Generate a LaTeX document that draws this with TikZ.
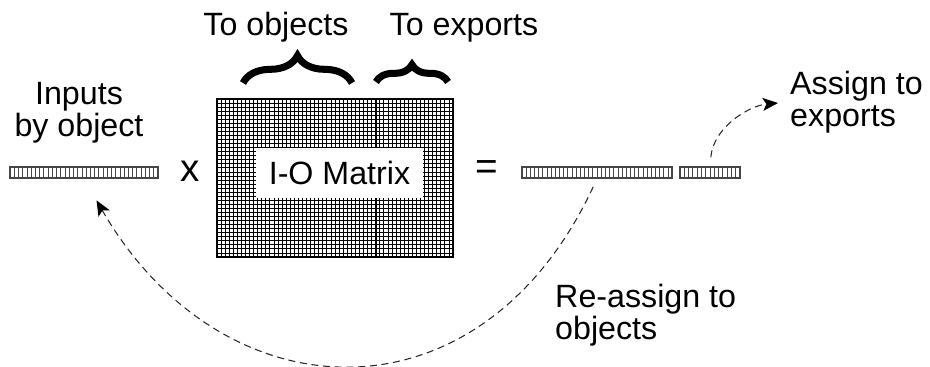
\documentclass[tikz,border=0pt]{standalone}
\usepackage{fontspec}
\setmainfont{Liberation Sans}
\usetikzlibrary{arrows.meta, positioning, calc, decorations.pathreplacing}
\definecolor{vecgray}{RGB}{70,70,70}
\definecolor{dashgray}{RGB}{40,40,40}
\tikzset{
  lbl/.style={font=\fontsize{27.5}{27.2}\selectfont, inner sep=0pt},
  oplbl/.style={font=\fontsize{33}{33}\selectfont, inner sep=0pt},
  vecbox/.style={draw=vecgray, line width=1.2pt, minimum height=0.33cm, inner sep=0pt},
  stripe/.style={vecgray, line width=0.7pt},
  gridline/.style={black, line width=0.75pt},
  flowarrow/.style={dashgray, line width=0.9pt, dash pattern=on 6pt off 4pt,
    -{Stealth[length=13pt, width=11pt, inset=3pt, black]}},
  bigbrace/.style={decorate, decoration={brace, amplitude=#1}, line width=6pt},
}
\begin{document}
\begin{tikzpicture}[x=0.3mm, y=0.3mm]
    \useasboundingbox (0,0) rectangle (930,367);

    % Inputs vector
    \node[lbl, align=center] (inputs) at (79,254) {Inputs\\by object};
    \node[vecbox, minimum width=4.44cm] (invec) at (84,194.5) {};
    \foreach \i in {1,...,34} {
        \draw[stripe] (10+\i*4.23,189) -- ++(0,11);
    }

    \node[oplbl] (times) at (190,196) {x};

    % I-O matrix
    \node[draw, line width=1pt, minimum width=7.08cm, minimum height=4.74cm, inner sep=0pt] (iomat) at (335,189) {};
    \foreach \i in {1,...,57} {
        \draw[gridline] (217+\i*4.07,110) -- ++(0,158);
    }
    \foreach \j in {1,...,38} {
        \draw[gridline] (217,110+\j*4.05) -- ++(236,0);
    }
    \draw[line width=1.6pt] (376,110) -- (376,268);
    \node[lbl, fill=white, minimum width=5.01cm, minimum height=1.5cm] (iolabel) at (339.5,194) {I-O Matrix};

    % Braces
    \draw[bigbrace=0.82cm] (243,284) -- (352,284);
    \draw[bigbrace=0.52cm] (376,285) -- (448,285);
    \node[lbl, anchor=base] (toobj) at (276,331) {To objects};
    \node[lbl, anchor=base] (toexp) at (464,331) {To exports};

    \node[oplbl] (equals) at (487,197) {=};

    % Result vectors
    \node[vecbox, minimum width=4.5cm] (outvec) at (597,194.5) {};
    \foreach \i in {1,...,35} {
        \draw[stripe] (522+\i*4.17,189) -- ++(0,11);
    }
    \node[vecbox, minimum width=1.8cm] (expvec) at (710,194.5) {};
    \foreach \i in {1,...,13} {
        \draw[stripe] (680+\i*4.29,189) -- ++(0,11);
    }

    % Feedback
    \node[lbl, align=left, anchor=west] (assign) at (790,265) {Assign to\\exports};
    \node[lbl, align=left, anchor=west] (reassign) at (555,52) {Re-assign to\\objects};
    \draw[flowarrow, shorten <=0.27cm, shorten >=0.36cm] (expvec.north) to[out=85, in=185] (assign.west);
    \draw[flowarrow, shorten <=0.27cm, shorten >=0.75cm] (outvec.south) to[out=-115, in=-60, looseness=1.38] (invec.south);
\end{tikzpicture}
\end{document}
